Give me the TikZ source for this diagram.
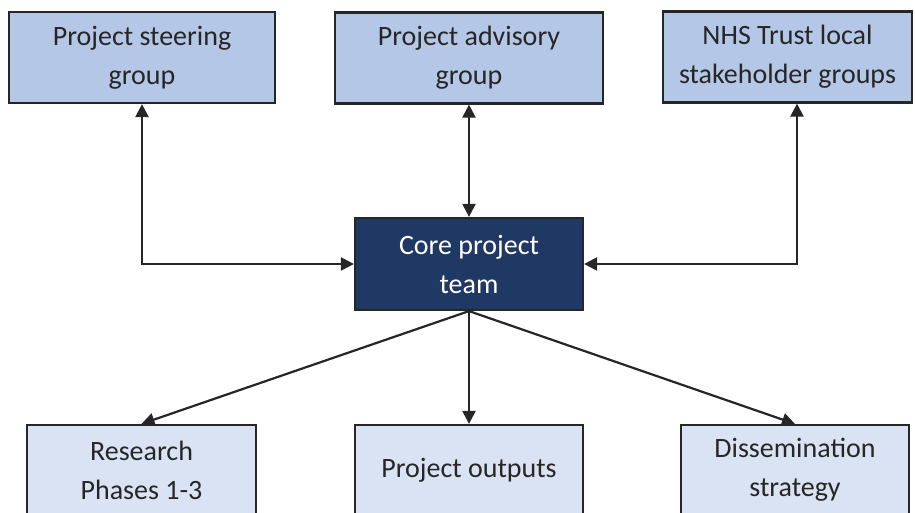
\documentclass[tikz,border=0pt]{standalone}
\usepackage{fontspec}
\setmainfont{Carlito}
\usepackage{xcolor}
\usetikzlibrary{arrows.meta}
\definecolor{groupblue}{HTML}{B4C7E7}
\definecolor{outblue}{HTML}{DAE3F3}
\definecolor{coreblue}{HTML}{203864}
\definecolor{edgegray}{HTML}{262626}
\tikzset{
    box/.style={draw=edgegray, line width=2.2pt, align=center, inner sep=0pt,
        font=\fontsize{28}{39}\selectfont, text=edgegray},
    groupbox/.style={box, fill=groupblue, minimum height=91pt},
    outbox/.style={box, fill=outblue, minimum width=228pt, minimum height=90pt},
    corebox/.style={box, fill=coreblue, text=white, minimum width=228pt, minimum height=92pt},
    link/.style={line width=2.2pt, draw=edgegray, -{Triangle[length=13pt, width=13pt]}},
    twolink/.style={link, {Triangle[length=13pt, width=13pt]}-{Triangle[length=13pt, width=13pt]}}
}
\begin{document}
\begin{tikzpicture}[x=1pt, y=1pt]
            \useasboundingbox (0,0) rectangle (915,513);
            % groups along the top
            \node (steer) [groupbox, minimum width=266pt] at (142, 455.5) {Project steering\\group};
            \node (advisory) [groupbox, minimum width=268pt] at (469, 455) {Project advisory\\group};
            \node (trust) [groupbox, minimum width=249pt] at (787.5, 456) {NHS Trust local\\stakeholder groups};
            % core team
            \node (core) [corebox] at (469, 249) {Core project\\team};
            % outputs along the bottom
            \node (research) [outbox, minimum width=229pt] at (141.5, 43) {Research\\Phases 1-3};
            \node (outputs) [outbox] at (469, 43) {Project outputs};
            \node (dissem) [outbox] at (795, 43) {Dissemination\\strategy};
            % connectors
            \draw [twolink] (steer.south) |- (core.west);
            \draw [twolink] (advisory.south) -- (core.north);
            \draw [twolink] ([xshift=9.5pt]trust.south) |- (core.east);
            \draw [link] (core.south) -- (research.north);
            \draw [link] (core.south) -- (outputs.north);
            \draw [link] (core.south) -- (dissem.north);
        \end{tikzpicture}
\end{document}
